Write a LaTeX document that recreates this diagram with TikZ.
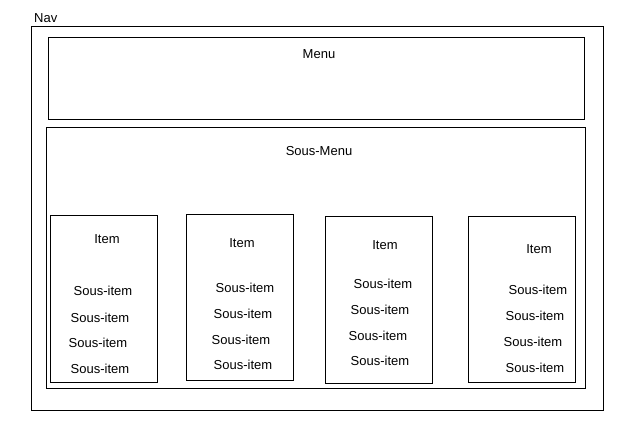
\documentclass[tikz,border=0pt]{standalone}
\usepackage{fontspec}
\setmainfont{Liberation Sans}
\begin{document}
\begin{tikzpicture}[x=1pt,y=-1pt,
  box/.style={draw,line width=0.8pt},
  lbl/.style={font=\fontsize{13}{15}\selectfont,inner sep=0pt}]
\useasboundingbox (0,0) rectangle (632,426);
\draw[box] (31,26) rectangle (603,410);
\node[lbl,anchor=west] (nav) at (34,18) {Nav};
\draw[box] (48,37) rectangle (584,119);
\node[lbl] (menu) at (319,54) {Menu};
\draw[box] (46,127) rectangle (585,388);
\node[lbl] (sm) at (319,151) {Sous-Menu};
\draw[box] (50,215) rectangle (157,382);
\node[lbl] (i1) at (107,239) {Item};
\node[lbl] (a1) at (103,291) {Sous-item};
\node[lbl] (a2) at (100,318) {Sous-item};
\node[lbl] (a3) at (98,343) {Sous-item};
\node[lbl] (a4) at (100,369) {Sous-item};
\draw[box] (186,214) rectangle (293,380);
\node[lbl] (i2) at (242,243) {Item};
\node[lbl] (b1) at (245,288) {Sous-item};
\node[lbl] (b2) at (243,314) {Sous-item};
\node[lbl] (b3) at (241,340) {Sous-item};
\node[lbl] (b4) at (243,365) {Sous-item};
\draw[box] (325,216) rectangle (432,383);
\node[lbl] (i3) at (385,245) {Item};
\node[lbl] (c1) at (383,284) {Sous-item};
\node[lbl] (c2) at (380,310) {Sous-item};
\node[lbl] (c3) at (378,336) {Sous-item};
\node[lbl] (c4) at (380,361) {Sous-item};
\draw[box] (468,216) rectangle (575,382);
\node[lbl] (i4) at (539,249) {Item};
\node[lbl] (d1) at (538,290) {Sous-item};
\node[lbl] (d2) at (535,316) {Sous-item};
\node[lbl] (d3) at (533,342) {Sous-item};
\node[lbl] (d4) at (535,368) {Sous-item};
\end{tikzpicture}
\end{document}
